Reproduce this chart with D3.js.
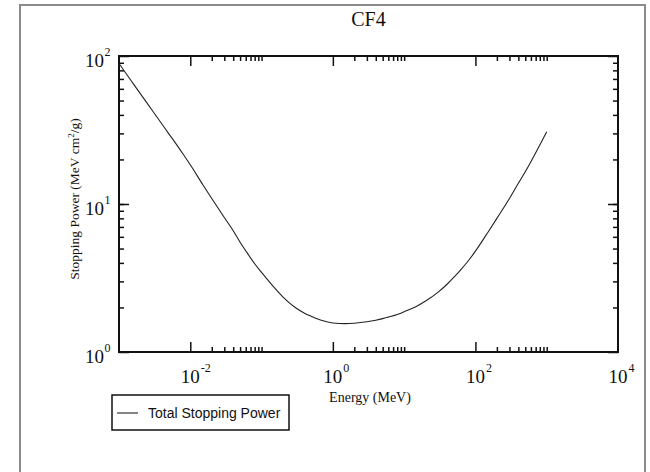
<!DOCTYPE html>
<html lang="en">
<head>
    <meta charset="UTF-8">
    <title>CF4 Stopping Power</title>
    <script src="https://cdnjs.cloudflare.com/ajax/libs/d3/7.8.5/d3.min.js"></script>
    <style>
        body {
            margin: 0;
            background-color: white;
        }
        .serif {
            font-family: 'Liberation Serif', 'Times New Roman', serif;
            fill: #111;
        }
        .legend-text {
            font-family: 'Liberation Sans', Arial, sans-serif;
            font-size: 14px;
            fill: #111;
        }
        .axis path {
            display: none;
        }
        .axis line {
            stroke: #111;
            stroke-width: 1.5px;
        }
        .curve {
            fill: none;
            stroke: #222;
            stroke-width: 1.1px;
        }
    </style>
</head>
<body>
    <div id="chart"></div>

    <script>
        // energies (MeV) and total stopping power (MeV cm2/g)
        const energy = [
            0.001, 0.0015, 0.002, 0.003, 0.004, 0.005, 0.006, 0.008,
            0.01, 0.015, 0.02, 0.03, 0.04, 0.05, 0.06, 0.08,
            0.1, 0.15, 0.2, 0.3, 0.4, 0.5, 0.6, 0.8,
            1, 1.5, 2, 3, 4, 5, 6, 8,
            10, 15, 20, 30, 40, 50, 60, 80,
            100, 150, 200, 300, 400, 500, 600, 800, 1000
        ];
        const stoppingPower = [
            89, 67.5, 55.5, 42.2, 34.7, 29.8, 26.4, 21.6,
            18.4, 13.5, 10.9, 8.1, 6.6, 5.52, 4.83, 3.95,
            3.45, 2.73, 2.35, 1.99, 1.83, 1.74, 1.675, 1.605,
            1.57, 1.555, 1.565, 1.6, 1.64, 1.68, 1.72, 1.79,
            1.87, 2.04, 2.21, 2.54, 2.87, 3.2, 3.52, 4.15,
            4.8, 6.45, 8.0, 10.9, 13.8, 16.5, 19.3, 25.0, 30.8
        ];

        const xDomain = [1e-3, 1e4];
        const yDomain = [1, 100];
        const xMajorTicks = [1e-2, 1, 1e2];
        const yMajorTicks = [1, 10, 100];
        const xLabelExps = [-2, 0, 2, 4];
        const yLabelExps = [0, 1, 2];

        const title = "CF4";
        const xTitle = "Energy (MeV)";
        const legendLabel = "Total Stopping Power";

        const W = 650, H = 472;
        const plot = {left: 119, right: 618, top: 56, bottom: 352};

        const svg = d3.select("#chart")
            .append("svg")
            .attr("width", W)
            .attr("height", H);

        // outer page frame
        svg.append("rect")
            .attr("x", 20).attr("y", 5)
            .attr("width", 625).attr("height", 490)
            .attr("fill", "none")
            .attr("stroke", "#8a8a8a")
            .attr("stroke-width", 2);

        const x = d3.scaleLog().domain(xDomain).range([plot.left, plot.right]);
        const y = d3.scaleLog().domain(yDomain).range([plot.bottom, plot.top]);

        // minor ticks: 2..10 times each major tick
        const minorOf = majors => majors.flatMap(m => d3.range(2, 11).map(k => m * k));
        const xMinor = minorOf(xMajorTicks).filter(v => v < xDomain[1]);
        const yMinor = minorOf([1, 10]).filter(v => v < yDomain[1]);

        function addAxis(axisFn, scale, values, size, translate) {
            svg.append("g")
                .attr("class", "axis")
                .attr("transform", translate)
                .call(axisFn(scale).tickValues(values).tickSize(size).tickFormat(""));
        }

        addAxis(d3.axisBottom, x, xMajorTicks, -10, `translate(0,${plot.bottom})`);
        addAxis(d3.axisBottom, x, xMinor, -5, `translate(0,${plot.bottom})`);
        addAxis(d3.axisTop, x, xMajorTicks, -10, `translate(0,${plot.top})`);
        addAxis(d3.axisTop, x, xMinor, -5, `translate(0,${plot.top})`);
        addAxis(d3.axisLeft, y, yMajorTicks, -10, `translate(${plot.left},0)`);
        addAxis(d3.axisLeft, y, yMinor, -5, `translate(${plot.left},0)`);
        addAxis(d3.axisRight, y, yMajorTicks, -10, `translate(${plot.right},0)`);
        addAxis(d3.axisRight, y, yMinor, -5, `translate(${plot.right},0)`);

        // plot frame
        svg.append("rect")
            .attr("x", plot.left).attr("y", plot.top)
            .attr("width", plot.right - plot.left)
            .attr("height", plot.bottom - plot.top)
            .attr("fill", "none")
            .attr("stroke", "#111")
            .attr("stroke-width", 2);

        // curve
        const line = d3.line()
            .x((d, i) => x(energy[i]))
            .y(d => y(d))
            .curve(d3.curveMonotoneX);

        svg.append("path")
            .datum(stoppingPower)
            .attr("class", "curve")
            .attr("d", line);

        // tick labels as 10^n
        xLabelExps.forEach(e => {
            const px = x(Math.pow(10, e));
            svg.append("text")
                .attr("class", "serif")
                .attr("x", px).attr("y", plot.bottom + 31)
                .attr("text-anchor", "middle")
                .attr("font-size", 19)
                .text("10");
            svg.append("text")
                .attr("class", "serif")
                .attr("x", px + 10.5).attr("y", plot.bottom + 20)
                .attr("font-size", 12)
                .text(e < 0 ? "-" + (-e) : e);
        });

        yLabelExps.forEach(e => {
            const py = y(Math.pow(10, e));
            svg.append("text")
                .attr("class", "serif")
                .attr("x", 104).attr("y", py + 11)
                .attr("text-anchor", "end")
                .attr("font-size", 19)
                .text("10");
            svg.append("text")
                .attr("class", "serif")
                .attr("x", 104.5).attr("y", py)
                .attr("font-size", 12)
                .text(e);
        });

        // title and axis titles
        svg.append("text")
            .attr("class", "serif")
            .attr("x", (plot.left + plot.right) / 2).attr("y", 26)
            .attr("text-anchor", "middle")
            .attr("font-size", 20)
            .text(title);

        svg.append("text")
            .attr("class", "serif")
            .attr("x", 370).attr("y", 402)
            .attr("text-anchor", "middle")
            .attr("font-size", 14)
            .text(xTitle);

        const yTitle = svg.append("text")
            .attr("class", "serif")
            .attr("text-anchor", "middle")
            .attr("font-size", 13.5)
            .attr("transform", `translate(79,199)rotate(-90)`);
        yTitle.append("tspan").text("Stopping Power (MeV cm");
        yTitle.append("tspan").attr("dy", -5).attr("font-size", 9).text("2");
        yTitle.append("tspan").attr("dy", 5).text("/g)");

        // legend
        const legend = svg.append("g").attr("transform", "translate(112,395)");
        legend.append("rect")
            .attr("width", 177).attr("height", 35)
            .attr("fill", "white")
            .attr("stroke", "#111")
            .attr("stroke-width", 1.5);
        legend.append("line")
            .attr("x1", 5).attr("x2", 26)
            .attr("y1", 18).attr("y2", 18)
            .attr("stroke", "#222")
            .attr("stroke-width", 1.1);
        legend.append("text")
            .attr("class", "legend-text")
            .attr("x", 36).attr("y", 23)
            .text(legendLabel);
    </script>
</body>
</html>
